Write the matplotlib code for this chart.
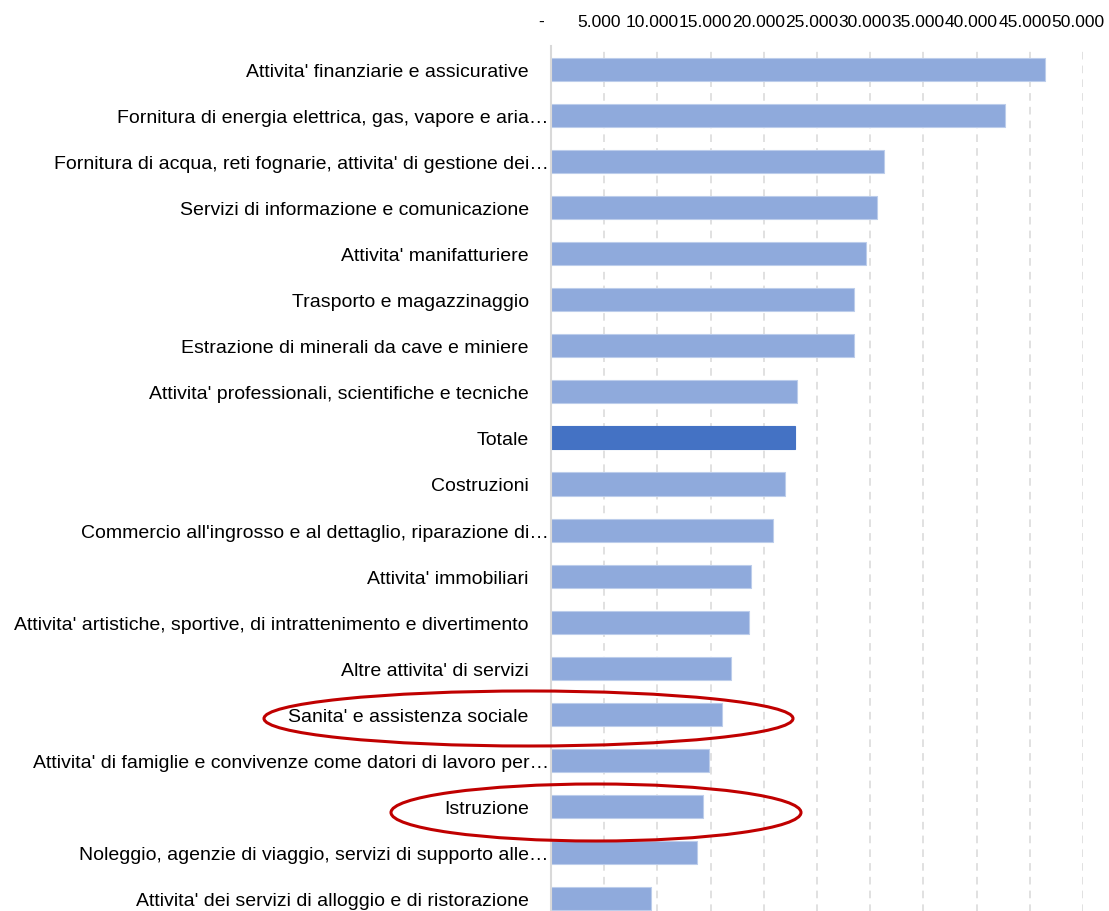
import matplotlib
matplotlib.use("Agg")
import matplotlib.pyplot as plt
from matplotlib.patches import Ellipse
from matplotlib.ticker import FuncFormatter, MultipleLocator
from matplotlib.transforms import ScaledTranslation

# Sectors, ordered from highest to lowest value
categories = [
    "Attivita' finanziarie e assicurative",
    "Fornitura di energia elettrica, gas, vapore e aria\u2026",
    "Fornitura di acqua, reti fognarie, attivita' di gestione dei\u2026",
    "Servizi di informazione e comunicazione",
    "Attivita' manifatturiere",
    "Trasporto e magazzinaggio",
    "Estrazione di minerali da cave e miniere",
    "Attivita' professionali, scientifiche e tecniche",
    "Totale",
    "Costruzioni",
    "Commercio all'ingrosso e al dettaglio, riparazione di\u2026",
    "Attivita' immobiliari",
    "Attivita' artistiche, sportive, di intrattenimento e divertimento",
    "Altre attivita' di servizi",
    "Sanita' e assistenza sociale",
    "Attivita' di famiglie e convivenze come datori di lavoro per\u2026",
    "Istruzione",
    "Noleggio, agenzie di viaggio, servizi di supporto alle\u2026",
    "Attivita' dei servizi di alloggio e di ristorazione",
]
values = [
    46450, 42700, 31300, 30600, 29580, 28500, 28450, 23090, 22930, 22020,
    20830, 18830, 18580, 16890, 16100, 14880, 14250, 13690, 9430,
]
total_label = "Totale"
circled = ["Sanita' e assistenza sociale", "Istruzione"]

W, H, DPI = 1109, 912, 100
fig = plt.figure(figsize=(W / DPI, H / DPI), dpi=DPI)
plt.rcParams["font.family"] = ["Liberation Sans", "DejaVu Sans"]

ax_left, ax_right, ax_top, ax_bottom = 551, 1083, 47, 923
ax = fig.add_axes([ax_left / W, 1 - ax_bottom / H,
                   (ax_right - ax_left) / W, (ax_bottom - ax_top) / H])

pos = list(range(len(categories)))
colors = ["#4472C4" if c == total_label else "#8FAADC" for c in categories]
edges = ["#4472C4" if c == total_label else "#BCCDEB" for c in categories]
ax.barh(pos, values, height=0.5, color=colors, edgecolor=edges,
        linewidth=0.8, zorder=3)

ax.set_ylim(len(categories) - 0.5, -0.5)
ax.set_xlim(0, 50000)
ax.xaxis.set_major_locator(MultipleLocator(5000))


def fmt(v, _):
    if abs(v) < 1e-9:
        return "-"
    return f"{v:,.0f}".replace(",", ".")


ax.xaxis.set_major_formatter(FuncFormatter(fmt))
ax.xaxis.tick_top()
ax.tick_params(axis="x", length=0, pad=12, labelsize=12.5, labelcolor="#000000")
ax.set_yticks(pos)
ax.set_yticklabels(categories)
ax.tick_params(axis="y", length=0, pad=16, labelsize=14.0, labelcolor="#000000")

ax.grid(axis="x", color="#D9D9D9", linewidth=1.1, linestyle=(0, (5, 4)), zorder=0)
ax.grid(axis="y", visible=False)
for s in ("top", "right", "bottom"):
    ax.spines[s].set_visible(False)
ax.spines["left"].set_color("#D9D9D9")
ax.spines["left"].set_linewidth(1.5)
ax.spines["left"].set_zorder(4)

# accounting-style offsets for the top labels
fig.canvas.draw()
for lab in ax.get_xticklabels():
    dx = -10 if lab.get_text() == "-" else -5
    lab.set_transform(lab.get_transform() + ScaledTranslation(dx / DPI, 0, fig.dpi_scale_trans))
# truncated labels sit closer to the axis
for lab in ax.get_yticklabels():
    if lab.get_text().endswith("\u2026"):
        lab.set_transform(lab.get_transform() + ScaledTranslation(20 / DPI, 0, fig.dpi_scale_trans))

# red ellipses around the highlighted sectors (figure pixel geometry)
rings = {
    "Sanita' e assistenza sociale": (528.5, 719.5, 529, 55),
    "Istruzione": (596, 813.5, 410, 57),
}
for name in circled:
    cx, cy, ew, eh = rings[name]
    e = Ellipse((cx / W, 1 - cy / H), ew / W, eh / H, transform=fig.transFigure,
                fill=False, edgecolor="#C00000", linewidth=2.2, zorder=10)
    fig.add_artist(e)

fig.savefig("out.png", dpi=DPI)
